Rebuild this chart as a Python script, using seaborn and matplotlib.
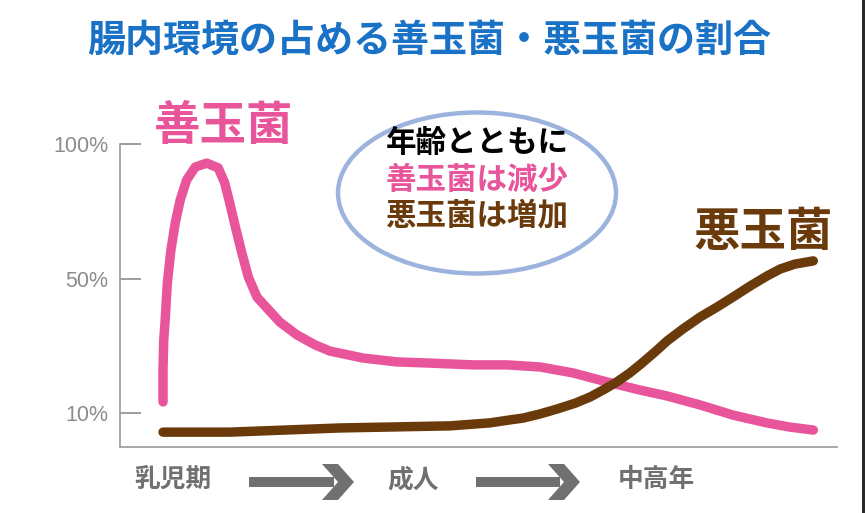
import numpy as np
import pandas as pd
import matplotlib
matplotlib.use('Agg')
import matplotlib.pyplot as plt
import seaborn as sns
from matplotlib.patches import Ellipse, Polygon, Rectangle

# data (x: life stage 0-100 along axis, y: chart level where 10/55/100 = 10%/50%/100%)
good_x = [6.0, 6.0, 6.1, 6.3, 6.6, 7.1, 7.7, 8.4, 9.3, 10.5, 12.1, 13.7, 14.6, 15.3, 16.2,
          17.0, 17.9, 19.1, 20.5, 22.3, 24.7, 27.2, 29.3, 33.9, 38.6, 43.2, 49.2, 54.0,
          58.6, 63.2, 67.9, 72.5, 76.3, 80.9, 85.5, 90.2, 93.4, 96.7]
good_y = [13.7, 24.4, 34.4, 41.1, 53.5, 64.5, 73.6, 81.3, 88.0, 92.3, 93.6, 92.0, 87.0, 80.3,
          71.2, 63.5, 55.5, 48.8, 45.1, 40.4, 36.1, 32.8, 30.7, 28.4, 27.1, 26.7, 26.1, 26.1,
          25.4, 23.4, 20.4, 17.7, 15.7, 12.7, 9.3, 6.7, 5.3, 4.3]
bad_x = [6.0, 15.3, 30.7, 46.0, 51.6, 54.4, 56.2, 58.6, 60.9, 63.5, 65.6, 67.6, 69.3, 71.1,
         72.5, 74.6, 76.3, 78.5, 80.9, 83.3, 85.5, 87.9, 90.2, 92.1, 94.1, 96.7]
bad_y = [3.6, 3.6, 5.0, 5.7, 6.7, 7.7, 8.3, 9.7, 11.3, 13.3, 15.4, 18.0, 20.4, 23.4,
         26.1, 30.4, 34.1, 38.1, 42.1, 45.5, 48.8, 52.5, 55.8, 58.2, 59.8, 60.9]
ytick_pos = [10, 55, 100]
ytick_labels = ['10%', '50%', '100%']
stage_pos = [7.4, 40.9, 74.8]
stage_labels = ['乳児期', '成人', '中高年']

PINK = '#e9559b'
BROWN = '#6b3a0b'
BLUE = '#1a72c6'
GRAY = '#707070'

sns.set_style('white')
plt.rcParams['font.family'] = ['Noto Sans CJK JP', 'DejaVu Sans']

W, H = 865, 513
fig = plt.figure(figsize=(W / 100, H / 100), dpi=100)
ax = fig.add_axes([120 / W, (H - 447) / H, 717 / W, 303 / H])


def fx(px):
    return px / W


def fy(py):
    return 1 - py / H


sns.lineplot(x=good_x, y=good_y, ax=ax, color=PINK, linewidth=6.8, sort=False,
             estimator=None, solid_capstyle='round', solid_joinstyle='round', clip_on=False)
sns.lineplot(x=bad_x, y=bad_y, ax=ax, color=BROWN, linewidth=6.8, sort=False,
             estimator=None, solid_capstyle='round', solid_joinstyle='round', clip_on=False)

ax.set_xlim(0, 100)
ax.set_ylim(-1.37, 100)
for s in ['top', 'right']:
    ax.spines[s].set_visible(False)
for s in ['left', 'bottom']:
    ax.spines[s].set_color('#9a9a9a')
    ax.spines[s].set_linewidth(1.2)

ax.set_yticks(ytick_pos)
ax.set_yticklabels(ytick_labels, family=['Liberation Sans', 'DejaVu Sans'], fontsize=15.5,
                   color='#8c8c8c')
ax.tick_params(axis='y', direction='in', length=15, width=1.2, color='#8c8c8c', pad=8.5, left=True)

ax.set_xticks(stage_pos)
ax.set_xticklabels(stage_labels, fontsize=18.5, fontweight='bold', color=GRAY)
ax.tick_params(axis='x', length=0, pad=14)

# arrows between stages
for x0, x1 in [(249, 354), (476, 580)]:
    fig.patches.append(Rectangle((fx(x0), fy(487)), fx(x1 - 20 - x0), 10 / H,
                                 transform=fig.transFigure, color=GRAY, lw=0))
    head = [(x1 - 32, 464), (x1 - 16, 464), (x1, 482), (x1 - 16, 500), (x1 - 32, 500), (x1 - 16, 482)]
    fig.patches.append(Polygon([(fx(a), fy(b)) for a, b in head], closed=True,
                               transform=fig.transFigure, color=GRAY, lw=0))

# title
fig.text(fx(429), fy(40), '腸内環境の占める善玉菌・悪玉菌の割合', ha='center', va='center',
         fontsize=27.4, fontweight='bold', color=BLUE)

# curve labels
fig.text(fx(224), fy(126), '善玉菌', ha='center', va='center', fontsize=33.5,
         fontweight='bold', color=PINK)
fig.text(fx(763), fy(232), '悪玉菌', ha='center', va='center', fontsize=33.5,
         fontweight='bold', color=BROWN)

# ellipse note
fig.patches.append(Ellipse((fx(477), fy(193)), 278 / W, 161 / H, transform=fig.transFigure,
                           facecolor='white', edgecolor='#9cb3de', lw=3.2))
fig.text(fx(477), fy(143), '年齢とともに', ha='center', va='center', fontsize=22,
         fontweight='bold', color='black')
fig.text(fx(477), fy(180), '善玉菌は減少', ha='center', va='center', fontsize=22,
         fontweight='bold', color=PINK)
fig.text(fx(477), fy(215), '悪玉菌は増加', ha='center', va='center', fontsize=22,
         fontweight='bold', color=BROWN)

# dark edge on the right
fig.patches.append(Rectangle((fx(862), 0), 3 / W, 1, transform=fig.transFigure,
                             color='#2a2a2a', lw=0))

fig.savefig('out.png', dpi=100)
